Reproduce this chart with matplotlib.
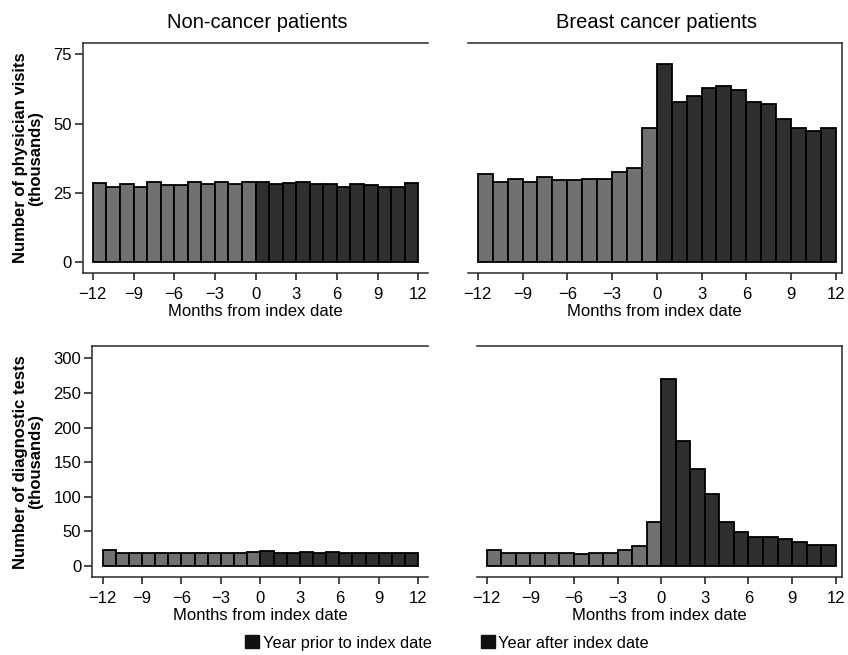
import numpy as np
import matplotlib
matplotlib.use("Agg")
import matplotlib.pyplot as plt
from matplotlib.patches import Patch

plt.rcParams['font.family'] = ['Liberation Sans', 'DejaVu Sans']

# month bins, left edge of each one-month bar
months = np.arange(-12, 12)
xticks = [-12, -9, -6, -3, 0, 3, 6, 9, 12]

# physician visits (thousands)
visits_noncancer = [28.5, 27.0, 28.1, 27.3, 28.8, 27.8, 27.8, 28.8, 28.1, 28.8, 28.1, 29.1,
                    29.1, 28.1, 28.5, 28.8, 28.1, 28.1, 27.3, 28.1, 27.8, 27.0, 27.3, 28.5]
visits_breast = [31.7, 29.1, 30.0, 29.1, 30.6, 29.8, 29.8, 30.0, 30.0, 32.5, 34.1, 48.6,
                 71.5, 57.7, 59.9, 62.7, 63.6, 62.0, 57.7, 57.2, 51.7, 48.6, 47.5, 48.6]

# diagnostic tests (thousands)
tests_noncancer = [23, 19, 19, 19, 19, 19, 19, 19, 19, 19, 19, 19.5,
                   22, 19, 19, 19.5, 18, 20.5, 19, 18.5, 18, 18, 18, 18]
tests_breast = [23.1, 19.3, 19.3, 19.3, 19.3, 19.3, 17.8, 19.3, 19.3, 23.1, 28.9, 64.1,
                270.2, 181.1, 140.7, 104.0, 63.1, 49.1, 42.4, 42.4, 38.5, 34.7, 29.9, 29.9]

col_titles = ["Non-cancer patients", "Breast cancer patients"]
row_labels = ["Number of physician visits\n(thousands)",
              "Number of diagnostic tests\n(thousands)"]
legend_labels = ["Year prior to index date", "Year after index date"]

GREY = "#717171"
DARK = "#2f2f2f"
SPINE = "#2a2a2a"

W, H = 848, 655
fig = plt.figure(figsize=(W / 100, H / 100), dpi=100)

def px_axes(l, t, r, b):
    return fig.add_axes([l / W, 1 - b / H, (r - l) / W, (b - t) / H])

ax_tl = px_axes(82.7, 42.7, 427.7, 273.3)
ax_tr = px_axes(467.7, 42.7, 841.7, 273.3)
ax_bl = px_axes(92.3, 346, 427.7, 577.3)
ax_br = px_axes(476.7, 346, 841.7, 577.3)

panels = [
    (ax_tl, visits_noncancer, (-4, 79.2), [0, 25, 50, 75], (-12.75, 12.7), True),
    (ax_tr, visits_breast, (-4, 79.2), [0, 25, 50, 75], (-12.68, 12.4), False),
    (ax_bl, tests_noncancer, (-16.4, 317.8), [0, 50, 100, 150, 200, 250, 300], (-12.78, 12.72), True),
    (ax_br, tests_breast, (-16.4, 317.8), [0, 50, 100, 150, 200, 250, 300], (-12.69, 12.41), False),
]

for ax, vals, ylim, yticks, xlim, left in panels:
    vals = np.array(vals)
    colors = [GREY if m < 0 else DARK for m in months]
    ax.bar(months, vals, width=1, align='edge', color=colors,
           edgecolor='black', linewidth=1.3)
    ax.set_xlim(*xlim)
    ax.set_ylim(*ylim)
    ax.set_xticks(xticks)
    ax.tick_params(axis='x', direction='out', length=5, width=1.2, color=SPINE,
                   labelsize=12, pad=5)
    ax.set_xlabel("Months from index date", fontsize=12, labelpad=1)
    for s in ax.spines.values():
        s.set_linewidth(1.1)
        s.set_color(SPINE)
    if left:
        ax.set_yticks(yticks)
        ax.tick_params(axis='y', direction='out', length=6, width=1.2, color=SPINE,
                       labelsize=12, pad=2)
        ax.spines['right'].set_visible(False)
    else:
        ax.set_yticks([])
        ax.spines['left'].set_visible(False)

fig.text(257 / W, 1 - 23 / H, col_titles[0], fontsize=14.5, ha='center', va='center')
fig.text(656.7 / W, 1 - 23 / H, col_titles[1], fontsize=14.5, ha='center', va='center')

fig.text(28 / W, 1 - 158 / H, row_labels[0], fontsize=12, fontweight='bold',
         rotation=90, ha='center', va='center', linespacing=1.0)
fig.text(28 / W, 1 - 461.7 / H, row_labels[1], fontsize=12, fontweight='bold',
         rotation=90, ha='center', va='center', linespacing=1.0)

handles = [Patch(facecolor='#111111', edgecolor='#111111'),
           Patch(facecolor='#111111', edgecolor='#111111')]
fig.legend(handles, legend_labels, loc='center', bbox_to_anchor=(447 / W, 1 - 643 / H),
           ncol=2, frameon=False, fontsize=11.8, handlelength=0.85, handleheight=0.85,
           handletextpad=0.2, columnspacing=3.0, borderpad=0)

fig.savefig("out.png", dpi=100)
